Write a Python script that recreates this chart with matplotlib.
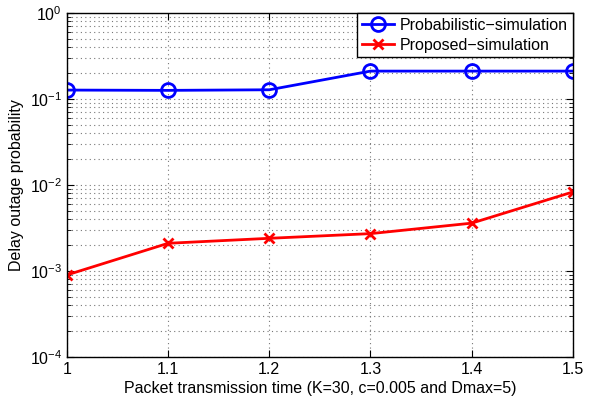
import matplotlib
matplotlib.use("Agg")
import matplotlib.pyplot as plt
from matplotlib.ticker import LogLocator, NullFormatter

plt.rcParams["font.family"] = ["Liberation Sans", "DejaVu Sans"]
plt.rcParams["mathtext.fontset"] = "custom"
plt.rcParams["mathtext.rm"] = "Liberation Sans"

transmission_time = [1.0, 1.1, 1.2, 1.3, 1.4, 1.5]
probabilistic_sim = [0.127, 0.126, 0.128, 0.211, 0.211, 0.211]
proposed_sim = [9.0e-4, 2.1e-3, 2.4e-3, 2.72e-3, 3.6e-3, 8.3e-3]
x_ticks = [1, 1.1, 1.2, 1.3, 1.4, 1.5]
x_tick_labels = ["1", "1.1", "1.2", "1.3", "1.4", "1.5"]

fig = plt.figure(figsize=(6.03, 4.0), dpi=100)
ax = fig.add_axes([0.111, 0.1075, 0.839, 0.86])

ax.plot(transmission_time, probabilistic_sim, color="#0000ff", linewidth=2,
        marker="o", markersize=10, markerfacecolor="none", markeredgewidth=2,
        label="Probabilistic\u2212simulation")
ax.plot(transmission_time, proposed_sim, color="#ff0000", linewidth=2,
        marker="x", markersize=7, markeredgewidth=2,
        label="Proposed\u2212simulation")

ax.set_yscale("log")
ax.set_xlim(1, 1.5)
ax.set_ylim(1e-4, 1)
ax.set_xticks(x_ticks)
ax.set_xticklabels(x_tick_labels)
ax.yaxis.set_major_locator(LogLocator(base=10, numticks=10))
ax.yaxis.set_minor_locator(LogLocator(base=10, subs=range(2, 10), numticks=20))
ax.yaxis.set_minor_formatter(NullFormatter())

grid_style = dict(linestyle=(0, (1, 3)), color="#777777", linewidth=0.8)
ax.grid(True, which="major", **grid_style)
ax.grid(True, which="minor", axis="y", **grid_style)
ax.tick_params(which="both", direction="in", top=True, right=True, labelsize=11.5)
ax.tick_params(which="major", length=5)
ax.tick_params(which="minor", length=3)
for spine in ax.spines.values():
    spine.set_linewidth(1.0)

ax.set_xlabel("Packet transmission time (K=30, c=0.005 and Dmax=5)", fontsize=11.5, labelpad=3)
ax.set_ylabel("Delay outage probability", fontsize=11.5, labelpad=4)

leg = ax.legend(loc="upper right", fontsize=11.5, fancybox=False, framealpha=1,
                edgecolor="black", borderaxespad=0.0, handlelength=2.0,
                borderpad=0.3, labelspacing=0.3, handletextpad=0.4)
leg.get_frame().set_linewidth(1.0)

fig.savefig("out.png", dpi=100)
